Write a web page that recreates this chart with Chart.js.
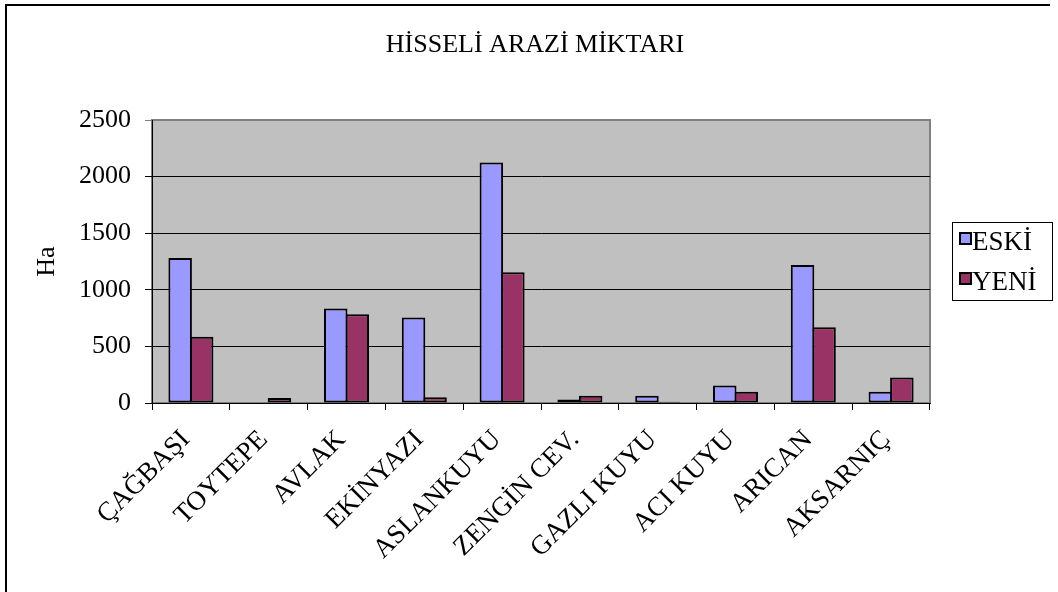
<!DOCTYPE html>
<html><head><meta charset="utf-8">
<script src="https://cdn.jsdelivr.net/npm/chart.js@4.4.1/dist/chart.umd.min.js"></script>
<style>html,body{margin:0;padding:0;background:#fff}#wrap{width:1058px;height:592px}</style>
</head><body><div id="wrap"><canvas id="c" width="1058" height="592"></canvas></div>
<script>
const categories = ['ÇAĞBAŞI','TOYTEPE','AVLAK','EKİNYAZI','ASLANKUYU','ZENGİN CEV.','GAZLI KUYU','ACI KUYU','ARICAN','AKSARNIÇ'];
const eskiValues = [1280, 0, 835, 755, 2125, 30, 65, 155, 1220, 100];
const yeniValues = [585, 45, 785, 50, 1155, 65, 12, 100, 670, 225];
const yTicks = [0, 500, 1000, 1500, 2000, 2500];
const seriesNames = ['ESKİ', 'YENİ'];
const chartTitle = 'HİSSELİ ARAZİ MİKTARI';
const yAxisTitle = 'Ha';

const FONT = "'Liberation Serif', 'Times New Roman', serif";

const stylePlugin = {
  id: 'stylePlugin',
  beforeDraw(chart) {
    const {ctx, chartArea: a} = chart;
    ctx.save();
    ctx.fillStyle = '#fff';
    ctx.fillRect(0, 0, chart.width, chart.height);
    ctx.fillStyle = '#C0C0C0';
    ctx.fillRect(a.left, a.top, a.right - a.left, a.bottom - a.top);
    ctx.strokeStyle = '#808080';
    ctx.lineWidth = 2;
    ctx.strokeRect(a.left, a.top, a.right - a.left, a.bottom - a.top);
    ctx.restore();
  },
  afterDraw(chart) {
    const {ctx} = chart;
    ctx.save();
    // outer frame
    ctx.strokeStyle = '#000';
    ctx.lineWidth = 2;
    ctx.beginPath();
    ctx.moveTo(6, 600);
    ctx.lineTo(6, 5);
    ctx.lineTo(1050, 5);
    ctx.stroke();
    // title
    ctx.fillStyle = '#000';
    ctx.font = '26px ' + FONT;
    ctx.textAlign = 'center';
    ctx.textBaseline = 'alphabetic';
    ctx.fillText(chartTitle, 535, 52);
    // legend
    const lx = 952, ly = 222, lw = 100, lh = 78;
    ctx.lineWidth = 1;
    ctx.strokeRect(lx + 0.5, ly + 0.5, lw, lh);
    ctx.font = '27px ' + FONT;
    ctx.textAlign = 'left';
    chart.data.datasets.forEach((ds, i) => {
      const y = ly + 11 + i * 40;
      ctx.fillStyle = ds.backgroundColor;
      ctx.fillRect(960, y, 11, 11);
      ctx.lineWidth = 2;
      ctx.strokeStyle = '#000';
      ctx.strokeRect(960, y, 11, 11);
      ctx.fillStyle = '#000';
      ctx.fillText(ds.label, 972, y + 17);
    });
    ctx.restore();
  }
};

new Chart(document.getElementById('c'), {
  type: 'bar',
  data: {
    labels: categories,
    datasets: [
      {label: seriesNames[0], data: eskiValues, backgroundColor: '#9999FF', borderColor: '#000', borderWidth: 2, borderSkipped: false},
      {label: seriesNames[1], data: yeniValues, backgroundColor: '#993366', borderColor: '#000', borderWidth: 2, borderSkipped: false}
    ]
  },
  options: {
    responsive: false,
    devicePixelRatio: 1,
    animation: false,
    layout: {padding: {left: 0, right: 128, top: 120, bottom: 0}},
    datasets: {bar: {categoryPercentage: 0.553, barPercentage: 1.093}},
    plugins: {
      legend: {display: false},
      tooltip: {enabled: false},
      title: {display: false}
    },
    scales: {
      x: {
        grid: {offset: true, drawOnChartArea: false, drawTicks: true, tickLength: 7, color: '#000'},
        border: {color: '#000', width: 1},
        ticks: {color: '#000', font: {family: FONT, size: 27}, minRotation: 45, maxRotation: 45, padding: 14, labelOffset: -5, autoSkip: false},
        afterFit(scale) { scale.height = 189; }
      },
      y: {
        min: 0, max: 2500,
        afterBuildTicks(scale) { scale.ticks = yTicks.map(v => ({value: v})); },
        grid: {
          color: (c) => (c.tick && c.tick.value === 2500) ? '#808080' : '#000',
          lineWidth: 1, tickLength: 7, drawTicks: true
        },
        border: {color: '#000', width: 1},
        ticks: {color: '#000', font: {family: FONT, size: 26}, padding: 14, callback: (v) => String(v)},
        title: {display: true, text: yAxisTitle, color: '#000', font: {family: FONT, size: 26}, padding: {top: 32, bottom: 0}},
        afterFit(scale) { scale.width = 152; }
      }
    }
  },
  plugins: [stylePlugin]
});
</script></body></html>
